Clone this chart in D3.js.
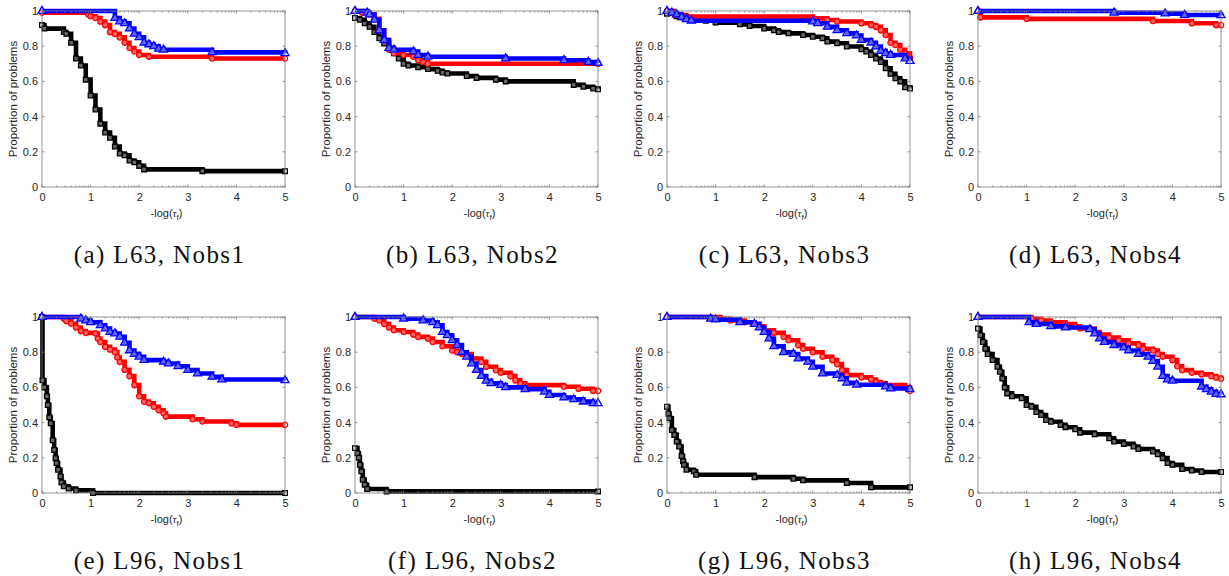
<!DOCTYPE html>
<html lang="en">
<head>
    <meta charset="UTF-8">
    <title>Performance profiles</title>
    <script src="https://d3js.org/d3.v7.min.js"></script>
    <style>
        body { margin: 0; background: #fff; }
        svg { display: block; }
        .tick text { font-family: "Liberation Sans", Arial, sans-serif; }
    </style>
</head>
<body>
    <div id="chart"></div>

    <script>
        // step breakpoints [x, y] (black = squares, red = circles, blue = triangles)
        const aBlack = [[0,0.92],[0.05,0.90],[0.45,0.88],[0.5,0.87],[0.6,0.82],[0.7,0.73],[0.8,0.69],[0.9,0.61],[1.0,0.52],[1.1,0.44],[1.2,0.36],[1.3,0.31],[1.4,0.28],[1.5,0.23],[1.6,0.19],[1.7,0.18],[1.8,0.15],[1.9,0.14],[2.0,0.12],[2.1,0.10],[3.3,0.09],[5,0.09]];
        const aRed   = [[0,0.99],[0.95,0.98],[1.0,0.97],[1.1,0.96],[1.2,0.94],[1.3,0.92],[1.4,0.88],[1.5,0.87],[1.6,0.85],[1.7,0.82],[1.8,0.79],[1.9,0.77],[2.0,0.75],[2.2,0.74],[3.5,0.73],[5,0.73]];
        const aBlue  = [[0,1.0],[1.5,0.96],[1.6,0.94],[1.7,0.93],[1.8,0.90],[1.9,0.87],[2.0,0.85],[2.1,0.82],[2.2,0.81],[2.3,0.80],[2.4,0.785],[2.5,0.78],[3.5,0.765],[5,0.76]];

        const bBlack = [[0,0.96],[0.1,0.95],[0.2,0.93],[0.3,0.91],[0.4,0.88],[0.5,0.845],[0.6,0.815],[0.7,0.79],[0.8,0.76],[0.9,0.73],[1.0,0.70],[1.1,0.69],[1.3,0.68],[1.5,0.67],[1.7,0.66],[1.8,0.65],[1.9,0.645],[2.3,0.63],[2.5,0.62],[2.9,0.61],[3.1,0.60],[4.5,0.58],[4.7,0.57],[4.9,0.56],[5,0.555]];
        const bRed   = [[0,1.0],[0.15,0.99],[0.3,0.98],[0.4,0.955],[0.5,0.89],[0.6,0.835],[0.7,0.78],[0.8,0.76],[1.0,0.75],[1.2,0.74],[1.3,0.72],[1.4,0.71],[1.5,0.70],[5,0.70]];
        const bBlue  = [[0,1.0],[0.25,0.99],[0.3,0.98],[0.4,0.95],[0.5,0.89],[0.6,0.835],[0.7,0.79],[0.8,0.78],[1.2,0.77],[1.3,0.75],[1.5,0.74],[3.1,0.73],[4.3,0.72],[4.8,0.71],[5,0.705]];

        const cBlack = [[0,0.985],[0.2,0.97],[0.3,0.965],[0.5,0.953],[0.8,0.945],[1.0,0.934],[1.5,0.924],[1.7,0.915],[2.0,0.90],[2.2,0.89],[2.3,0.88],[2.5,0.873],[2.8,0.864],[3.0,0.854],[3.2,0.845],[3.3,0.826],[3.5,0.817],[3.7,0.798],[4.0,0.783],[4.1,0.77],[4.2,0.75],[4.3,0.73],[4.4,0.71],[4.5,0.675],[4.6,0.643],[4.7,0.618],[4.8,0.60],[4.9,0.567],[5,0.56]];
        const cRed   = [[0,1.0],[0.15,0.98],[0.3,0.977],[0.4,0.968],[3.0,0.958],[3.3,0.949],[3.5,0.94],[4.0,0.93],[4.2,0.92],[4.3,0.91],[4.4,0.89],[4.5,0.864],[4.6,0.82],[4.7,0.807],[4.8,0.78],[4.9,0.76],[5,0.735]];
        const cBlue  = [[0,1.0],[0.1,0.99],[0.2,0.98],[0.3,0.965],[0.4,0.953],[0.5,0.945],[3.0,0.94],[3.1,0.93],[3.3,0.91],[3.5,0.89],[3.7,0.873],[3.9,0.86],[4.0,0.835],[4.2,0.82],[4.3,0.798],[4.4,0.773],[4.5,0.76],[4.6,0.75],[4.9,0.73],[5,0.716]];

        const dBlack = [];
        const dRed   = [[0,1.0],[0.05,0.964],[1.0,0.955],[3.6,0.943],[4.4,0.93],[4.9,0.92],[5,0.92]];
        const dBlue  = [[0,1.0],[2.8,0.99],[3.85,0.985],[4.25,0.977],[5,0.975]];

        const eBlack = [[0,1.0],[0.01,0.64],[0.05,0.60],[0.1,0.55],[0.12,0.50],[0.15,0.43],[0.18,0.396],[0.22,0.30],[0.25,0.245],[0.28,0.198],[0.3,0.17],[0.33,0.132],[0.38,0.094],[0.4,0.06],[0.45,0.038],[0.55,0.025],[0.7,0.015],[1.05,0.0],[5,0.0]];
        const eRed   = [[0,1.0],[0.45,0.99],[0.5,0.977],[0.6,0.962],[0.7,0.94],[0.8,0.92],[0.9,0.91],[1.1,0.906],[1.15,0.877],[1.2,0.858],[1.3,0.83],[1.4,0.815],[1.5,0.80],[1.55,0.77],[1.6,0.745],[1.7,0.70],[1.8,0.664],[1.9,0.613],[2.0,0.55],[2.1,0.519],[2.2,0.51],[2.3,0.49],[2.4,0.47],[2.5,0.453],[2.55,0.434],[3.1,0.419],[3.3,0.406],[3.9,0.396],[4.0,0.387],[5,0.387]];
        const eBlue  = [[0,1.0],[0.8,0.99],[0.9,0.98],[1.0,0.97],[1.2,0.953],[1.3,0.934],[1.4,0.915],[1.5,0.906],[1.6,0.887],[1.7,0.853],[1.8,0.81],[1.9,0.79],[2.0,0.774],[2.1,0.755],[2.5,0.745],[2.6,0.736],[2.8,0.72],[3.0,0.698],[3.2,0.679],[3.5,0.66],[3.7,0.645],[5,0.64]];

        const fBlack = [[0,0.255],[0.05,0.226],[0.08,0.20],[0.1,0.16],[0.13,0.123],[0.16,0.075],[0.2,0.047],[0.25,0.023],[0.65,0.009],[5,0.009]];
        const fRed   = [[0,1.0],[0.4,0.99],[0.5,0.98],[0.6,0.96],[0.7,0.94],[0.8,0.925],[1.0,0.915],[1.2,0.90],[1.3,0.887],[1.5,0.877],[1.6,0.858],[1.8,0.834],[2.0,0.81],[2.1,0.80],[2.2,0.79],[2.4,0.764],[2.6,0.745],[2.7,0.717],[2.9,0.698],[3.0,0.683],[3.2,0.664],[3.3,0.64],[3.4,0.623],[3.5,0.613],[4.3,0.604],[4.6,0.592],[4.9,0.58],[5,0.58]];
        const fBlue  = [[0,1.0],[1.0,0.99],[1.4,0.98],[1.6,0.97],[1.7,0.953],[1.8,0.915],[1.9,0.896],[2.0,0.868],[2.1,0.84],[2.2,0.80],[2.3,0.774],[2.4,0.736],[2.5,0.698],[2.6,0.664],[2.7,0.638],[2.8,0.623],[3.0,0.613],[3.1,0.60],[3.5,0.59],[3.9,0.575],[4.0,0.557],[4.3,0.543],[4.5,0.532],[4.7,0.519],[4.9,0.51],[5,0.51]];

        const gBlack = [[0,0.49],[0.03,0.45],[0.05,0.425],[0.1,0.358],[0.15,0.33],[0.2,0.292],[0.25,0.264],[0.3,0.21],[0.33,0.18],[0.35,0.16],[0.4,0.132],[0.55,0.123],[0.6,0.104],[1.8,0.09],[2.6,0.081],[2.8,0.072],[3.7,0.057],[4.2,0.032],[5,0.032]];
        const gRed   = [[0,1.0],[1.1,0.99],[1.3,0.98],[1.6,0.97],[1.8,0.962],[1.9,0.947],[2.0,0.925],[2.2,0.91],[2.4,0.887],[2.5,0.868],[2.7,0.84],[2.8,0.82],[3.0,0.80],[3.2,0.774],[3.4,0.755],[3.5,0.732],[3.6,0.698],[3.7,0.67],[4.0,0.657],[4.2,0.645],[4.3,0.63],[4.4,0.623],[4.5,0.613],[4.9,0.60],[5,0.58]];
        const gBlue  = [[0,1.0],[0.9,0.99],[1.0,0.985],[1.5,0.97],[1.8,0.96],[1.9,0.94],[2.0,0.915],[2.1,0.877],[2.2,0.834],[2.4,0.80],[2.6,0.79],[2.7,0.764],[2.9,0.745],[3.0,0.717],[3.2,0.679],[3.5,0.67],[3.6,0.651],[3.7,0.626],[3.9,0.615],[4.5,0.605],[4.6,0.594],[5,0.59]];

        const hBlack = [[0,0.934],[0.05,0.896],[0.1,0.858],[0.15,0.82],[0.2,0.79],[0.3,0.755],[0.4,0.717],[0.45,0.689],[0.5,0.651],[0.55,0.60],[0.6,0.566],[0.7,0.55],[0.9,0.538],[1.0,0.50],[1.1,0.49],[1.2,0.46],[1.3,0.443],[1.4,0.415],[1.5,0.405],[1.7,0.387],[1.8,0.374],[2.0,0.362],[2.1,0.343],[2.4,0.334],[2.7,0.311],[2.8,0.292],[3.0,0.279],[3.2,0.264],[3.3,0.25],[3.6,0.236],[3.7,0.22],[3.8,0.198],[3.9,0.17],[4.0,0.16],[4.2,0.136],[4.4,0.128],[4.6,0.119],[5,0.119]];
        const hRed   = [[0,1.0],[1.1,0.99],[1.3,0.98],[1.5,0.97],[1.8,0.96],[2.0,0.947],[2.1,0.935],[2.4,0.915],[2.5,0.90],[2.7,0.883],[2.9,0.868],[3.1,0.85],[3.3,0.84],[3.4,0.82],[3.6,0.81],[3.7,0.79],[3.8,0.774],[4.0,0.755],[4.1,0.72],[4.2,0.698],[4.4,0.683],[4.6,0.674],[4.8,0.664],[4.9,0.655],[5,0.65]];
        const hBlue  = [[0,1.0],[1.05,0.97],[1.2,0.96],[1.5,0.947],[1.8,0.94],[2.3,0.93],[2.4,0.906],[2.5,0.877],[2.6,0.858],[2.8,0.84],[3.0,0.826],[3.1,0.81],[3.3,0.79],[3.5,0.774],[3.6,0.75],[3.7,0.717],[3.8,0.664],[3.9,0.645],[4.0,0.638],[4.6,0.604],[4.7,0.589],[4.8,0.575],[4.9,0.562],[5,0.56]];

        const captions = ["(a) L63, Nobs1", "(b) L63, Nobs2", "(c) L63, Nobs3", "(d) L63, Nobs4",
                          "(e) L96, Nobs1", "(f) L96, Nobs2", "(g) L96, Nobs3", "(h) L96, Nobs4"];
        const panelSeries = [
            [aBlack, aRed, aBlue], [bBlack, bRed, bBlue], [cBlack, cRed, cBlue], [dBlack, dRed, dBlue],
            [eBlack, eRed, eBlue], [fBlack, fRed, fBlue], [gBlack, gRed, gBlue], [hBlack, hRed, hBlue]
        ];
        const xTicks = [0, 1, 2, 3, 4, 5];
        const yTicks = [0, 0.2, 0.4, 0.6, 0.8, 1];
        const seriesColors = ["#000000", "#ff0000", "#0000ff"];
        const seriesSymbols = [d3.symbolSquare, d3.symbolCircle, d3.symbolTriangle];

        const width = 1229, height = 576;
        const plotLefts = [42, 355, 667, 978];
        const plotTops = [11, 317];
        const pw = 243, ph = 176;
        const axisColor = "#262626";

        const svg = d3.select("#chart").append("svg")
            .attr("width", width)
            .attr("height", height);

        // minor ticks at n + log10(k), the way the original axes show them
        const minorTicks = [];
        for (let n = 0; n < 5; n++)
            for (let k = 2; k <= 9; k++) minorTicks.push(n + Math.log10(k));

        panelSeries.forEach((series, i) => {
            const left = plotLefts[i % 4];
            const top = plotTops[Math.floor(i / 4)];

            const x = d3.scaleLinear().domain([0, 5]).range([0, pw]);
            const y = d3.scaleLinear().domain([0, 1]).range([ph, 0]);

            const g = svg.append("g").attr("transform", `translate(${left},${top})`);

            // curves
            const line = d3.line()
                .x(d => x(d[0]))
                .y(d => y(d[1]))
                .curve(d3.curveStepAfter);

            series.forEach((pts, s) => {
                if (!pts.length) return;
                g.append("path")
                    .attr("d", line(pts))
                    .attr("fill", "none")
                    .attr("stroke", seriesColors[s])
                    .attr("stroke-width", 4.6);

                g.append("g").selectAll("path")
                    .data(pts)
                    .join("path")
                    .attr("transform", d => `translate(${x(d[0])},${y(d[1])})`)
                    .attr("d", d3.symbol().type(seriesSymbols[s]).size(s === 2 ? 28 : 22))
                    .attr("fill", "#fff")
                    .attr("fill-opacity", 0.4)
                    .attr("stroke", seriesColors[s])
                    .attr("stroke-width", 1.3);
            });

            // box
            g.append("rect")
                .attr("width", pw).attr("height", ph)
                .attr("fill", "none")
                .attr("stroke", "#7a7a7a")
                .attr("stroke-width", 0.8);

            // inward ticks on all four sides
            const tickG = g.append("g").attr("stroke", "#7a7a7a").attr("stroke-width", 0.8);
            xTicks.forEach(t => {
                tickG.append("line").attr("x1", x(t)).attr("x2", x(t)).attr("y1", ph).attr("y2", ph - 2.5);
                tickG.append("line").attr("x1", x(t)).attr("x2", x(t)).attr("y1", 0).attr("y2", 2.5);
            });
            minorTicks.forEach(t => {
                tickG.append("line").attr("x1", x(t)).attr("x2", x(t)).attr("y1", ph).attr("y2", ph - 1.5);
                tickG.append("line").attr("x1", x(t)).attr("x2", x(t)).attr("y1", 0).attr("y2", 1.5);
            });
            yTicks.forEach(t => {
                tickG.append("line").attr("x1", 0).attr("x2", 2.5).attr("y1", y(t)).attr("y2", y(t));
                tickG.append("line").attr("x1", pw).attr("x2", pw - 2.5).attr("y1", y(t)).attr("y2", y(t));
            });

            // tick labels
            const xAxis = d3.axisBottom(x).tickValues(xTicks).tickSize(0).tickPadding(6).tickFormat(d3.format("d"));
            const yAxis = d3.axisLeft(y).tickValues(yTicks).tickSize(0).tickPadding(4).tickFormat(d => d === 0 || d === 1 ? d : d.toFixed(1));

            const xg = g.append("g").attr("transform", `translate(0,${ph})`).call(xAxis);
            const yg = g.append("g").call(yAxis);
            [xg, yg].forEach(a => {
                a.select(".domain").remove();
                a.selectAll("text").attr("fill", axisColor).style("font-size", "11px");
            });

            // y label
            g.append("text")
                .attr("transform", `translate(-29,${ph / 2}) rotate(-90)`)
                .attr("text-anchor", "middle")
                .attr("dy", "0.35em")
                .attr("fill", axisColor)
                .style("font-family", "'Liberation Sans', Arial, sans-serif")
                .style("font-size", "11.5px")
                .text("Proportion of problems");

            // x label: -log(τ_f)
            const xl = g.append("text")
                .attr("x", pw / 2 + 3)
                .attr("y", ph + 30)
                .attr("text-anchor", "middle")
                .attr("fill", axisColor)
                .style("font-family", "'Liberation Sans', Arial, sans-serif")
                .style("font-size", "11px");
            xl.append("tspan").text("-log(");
            xl.append("tspan").style("font-family", "'Liberation Serif', serif").style("font-style", "italic").text("τ");
            xl.append("tspan").attr("dy", 3).style("font-size", "8px").text("f");
            xl.append("tspan").attr("dy", -3).text(")");

            // caption
            g.append("text")
                .attr("x", pw / 2 - 4)
                .attr("y", ph + 76)
                .attr("text-anchor", "middle")
                .attr("fill", "#111")
                .style("font-family", "'Liberation Serif', 'Times New Roman', serif")
                .style("font-size", "25px")
                .style("letter-spacing", "1.4px")
                .text(captions[i]);
        });
    </script>
</body>
</html>
